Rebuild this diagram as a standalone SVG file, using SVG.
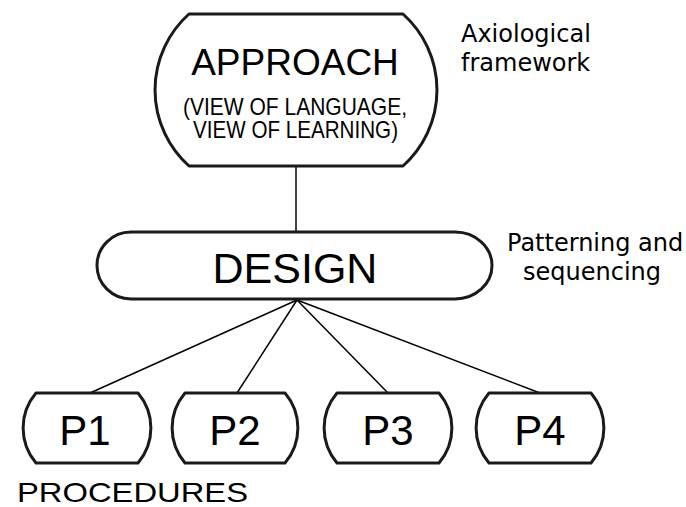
<svg xmlns="http://www.w3.org/2000/svg" width="686" height="507" viewBox="0 0 686 507">
<style>
.box{fill:#fff;stroke:#1a1a1a;stroke-width:3;stroke-linejoin:round}
.conn{stroke:#000;stroke-width:1.5;fill:none}
.t{font-family:"Liberation Sans",Arial,sans-serif;fill:#000;text-anchor:middle}
.lbl{font-family:"DejaVu Sans",Verdana,sans-serif;font-size:24px;fill:#000}
</style>
<rect width="686" height="507" fill="#fff"/>
<g id="connectors">
<line class="conn" x1="296" y1="166" x2="296" y2="232"/>
<line class="conn" x1="297" y1="300" x2="90" y2="393"/>
<line class="conn" x1="297" y1="300" x2="237" y2="393"/>
<line class="conn" x1="297" y1="300" x2="388" y2="393"/>
<line class="conn" x1="297" y1="300" x2="540" y2="393"/>
</g>
<g id="approach">
<path class="box" d="M189 14 H403 A102 102 0 0 1 403 166 H189 A102 102 0 0 1 189 14 Z"/>
<text class="t" x="295" y="75" font-size="37">APPROACH</text>
<text class="t" x="295" y="115" font-size="24" textLength="224" lengthAdjust="spacingAndGlyphs">(VIEW OF LANGUAGE,</text>
<text class="t" x="295.5" y="138" font-size="24" textLength="205" lengthAdjust="spacingAndGlyphs">VIEW OF LEARNING)</text>
</g>
<g id="axiological">
<text class="lbl" x="461" y="42">Axiological</text>
<text class="lbl" x="461" y="71">framework</text>
</g>
<g id="design">
<path class="box" d="M131 232 H455 A37 33.5 0 0 1 455 299 H131 A34 33.5 0 0 1 131 232 Z"/>
<text class="t" x="295" y="283" font-size="43">DESIGN</text>
</g>
<g id="patterning">
<text class="lbl" x="507" y="251">Patterning and</text>
<text class="lbl" x="523" y="280">sequencing</text>
</g>
<g id="p1">
<path class="box" d="M36 393 H138 A54 54 0 0 1 138 463 H36 A54 54 0 0 1 36 393 Z"/>
<text class="t" x="85" y="445" font-size="42">P1</text>
</g>
<g id="p2">
<path class="box" d="M185 393 H285 A54 54 0 0 1 285 463 H185 A54 54 0 0 1 185 393 Z"/>
<text class="t" x="235" y="445" font-size="42">P2</text>
</g>
<g id="p3">
<path class="box" d="M337 393 H439 A54 54 0 0 1 439 463 H337 A54 54 0 0 1 337 393 Z"/>
<text class="t" x="388" y="445" font-size="42">P3</text>
</g>
<g id="p4">
<path class="box" d="M489 393 H591 A54 54 0 0 1 591 463 H489 A54 54 0 0 1 489 393 Z"/>
<text class="t" x="540" y="445" font-size="42">P4</text>
</g>
<g id="procedures">
<text x="17" y="502" font-family="'Liberation Sans',Arial,sans-serif" font-size="28" textLength="231" lengthAdjust="spacingAndGlyphs">PROCEDURES</text>
</g>
</svg>
